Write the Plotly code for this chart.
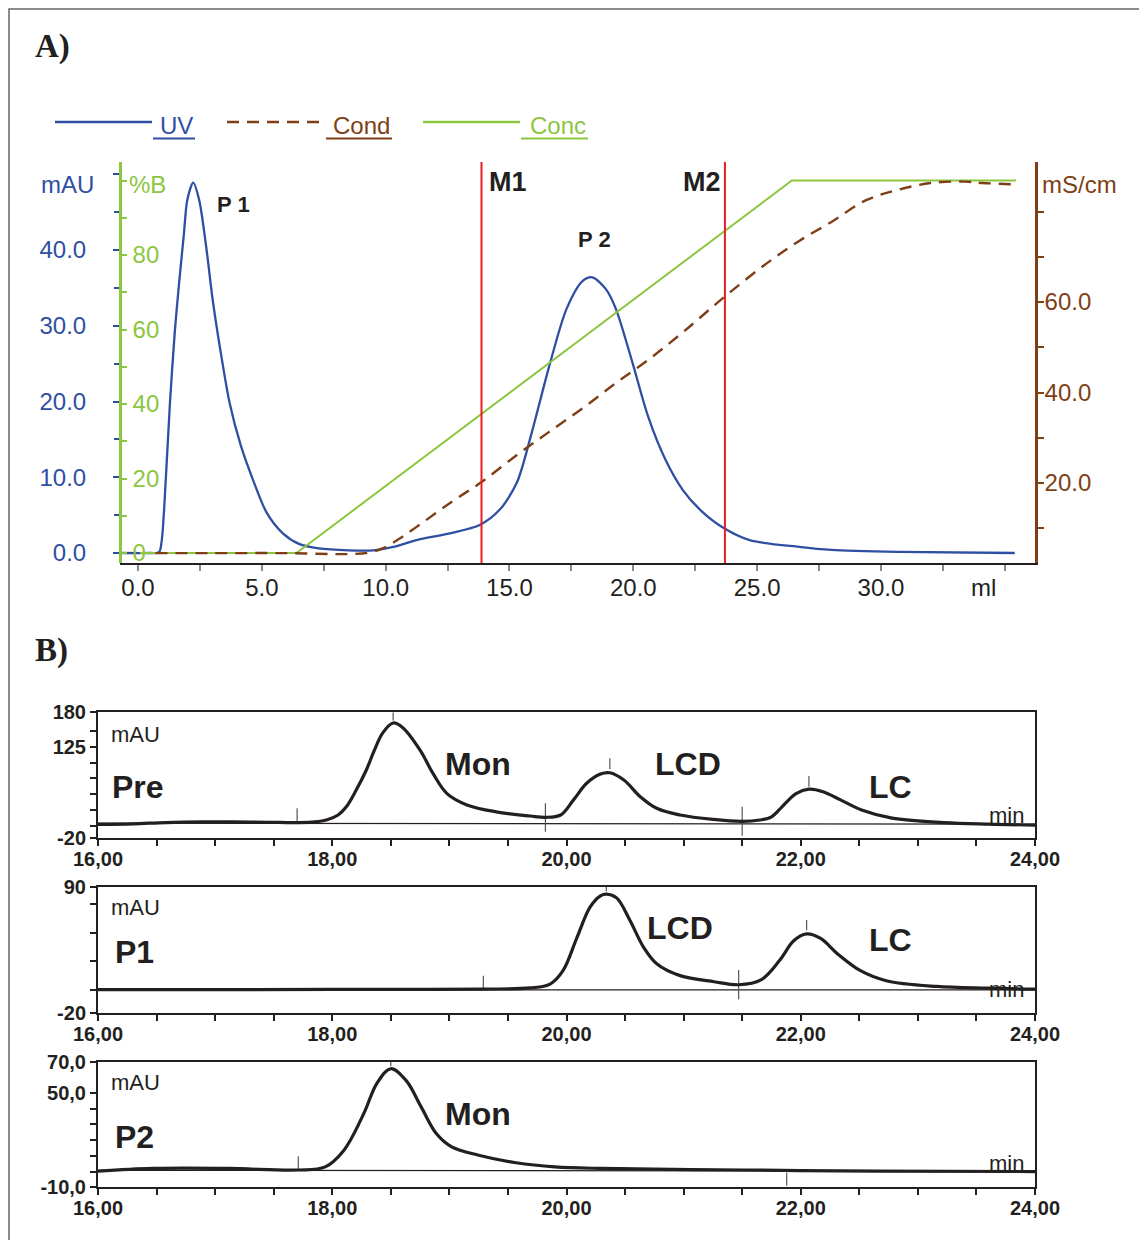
import plotly.graph_objects as go

W, H = 1139, 1240
def px(x): return x / W
def py(y): return 1 - y / H

# ---------------- DATA: panel A (column run) ----------------
uv_ml = [-0.7, 0.5, 0.85, 0.96, 1.12, 1.29, 1.49, 1.67, 1.85, 1.99, 2.23, 2.47, 2.77, 3.0, 3.3,
         3.7, 4.15, 4.65, 5.2, 5.85, 6.5, 7.3, 8.5, 9.5, 10.3, 11.25, 12.6, 13.8, 14.6, 15.3, 15.9, 16.6,
         17.3, 17.95, 18.35, 18.9, 19.3, 19.96, 20.6, 21.3, 22.0, 22.7, 23.6, 24.7, 26.7, 28.0, 30.7, 35.4]
uv_mau = [0, 0, 0.1, 1.7, 9.6, 19.8, 29.4, 36, 42, 46.6, 48.9, 46.6, 40, 33.8, 27.3,
          19.8, 14.2, 9.6, 5.3, 2.6, 1.2, 0.6, 0.35, 0.35, 0.8, 1.7, 2.6, 3.7, 5.7, 9.3, 15.9, 24.6,
          32.2, 35.9, 36.4, 34.8, 32.2, 25.2, 18, 12.3, 8.3, 5.7, 3.4, 1.7, 0.8, 0.4, 0.15, 0.0]

cond_ml = [0.7, 3, 6, 8.55, 9.3, 9.9, 10.5, 11.25, 12.6, 13.87, 15.3, 16.6, 17.95, 19.3, 20.6, 22.0,
           23.67, 25.4, 26.7, 28.0, 29.4, 30.7, 32.0, 33.4, 34.1, 35.4]
cond_ms = [4.5, 4.5, 4.5, 4.3, 4.6, 5.6, 7.5, 10.3, 15.6, 20.2, 26.2, 31.3, 36.5, 42.1, 47.2, 53.3,
           61.1, 68.6, 73.5, 77.7, 82.5, 84.8, 86.3, 86.6, 86.3, 86.0]

conc_ml = [0.08, 6.4, 26.4, 35.45]
conc_pctB = [0, 0, 100, 100]

mark_names = ["M1", "M2"]
mark_ml = [13.87, 23.7]

xA_tickvals = [0, 5, 10, 15, 20, 25, 30]
xA_ticktext = ["0.0", "5.0", "10.0", "15.0", "20.0", "25.0", "30.0"]
xA_minor = [2.5, 7.5, 12.5, 17.5, 22.5, 27.5, 32.5, 35]
uv_tickvals = [0, 10, 20, 30, 40, 50]
uv_ticktext = ["0.0", "10.0", "20.0", "30.0", "40.0", ""]
uv_minor = [5, 15, 25, 35, 45]
b_tickvals = [0, 20, 40, 60, 80, 100]
b_ticktext = ["0", "20", "40", "60", "80", ""]
b_minor = [10, 30, 50, 70, 90]
c_tickvals = [20, 40, 60]
c_ticktext = ["20.0", "40.0", "60.0"]
c_minor = [10, 30, 50, 70, 80]

# ---------------- DATA: panel B (SEC analyses) ----------------
pre_t = [16.0, 16.3, 16.58, 16.9, 17.15, 17.45, 17.7, 17.85, 17.95, 18.05, 18.12, 18.2, 18.29, 18.36,
         18.43, 18.52, 18.6, 18.75, 18.86, 18.98, 19.15, 19.4, 19.69, 19.82, 19.95, 20.06, 20.17,
         20.29, 20.37, 20.49, 20.63, 20.77, 20.97, 21.25, 21.5, 21.65, 21.75, 21.84, 21.96, 22.07,
         22.19, 22.34, 22.52, 22.78, 23.22, 23.6, 24.0]
pre_mau = [2, 3, 5, 6, 6, 5.5, 5, 6, 9, 17, 30, 55, 88, 120,
           147, 163, 156, 120, 83, 51, 33, 22, 15.4, 13.3, 17, 41, 67,
           82, 84, 72.5, 46, 27.6, 17, 10, 7, 9, 14, 30, 51, 58,
           54, 41, 25, 12, 5, 2.5, 1]
pre_base = [4, 2.5]

p1_t = [16.0, 17.0, 18.0, 18.41, 19.29, 19.69, 19.86, 19.97, 20.09, 20.2, 20.29, 20.34, 20.43, 20.54,
        20.66, 20.77, 20.97, 21.26, 21.47, 21.66, 21.82, 21.94, 22.05, 22.17, 22.31, 22.51, 22.73,
        23.16, 23.6, 24.0]
p1_mau = [0.5, 0.5, 0.8, 0.8, 1, 2, 5.4, 17, 46, 72, 82, 83.5, 80, 61,
          37, 23, 12.7, 7.4, 4.8, 9, 26, 43, 49, 45, 32, 17, 8.3,
          3.3, 1.8, 1]
p1_base = [0.3, 0.3]

p2_t = [16.0, 16.47, 17.12, 17.71, 17.94, 18.1, 18.27, 18.38, 18.5, 18.63, 18.76, 18.89, 19.02,
        19.25, 19.57, 19.9, 20.29, 21.51, 22.65, 24.0]
p2_mau = [0.3, 2, 2, 1, 3, 13.6, 37, 56, 65.4, 58, 41, 24, 15.7,
          10.4, 5.6, 3, 2, 1, 0.3, 0]
p2_base = [0.8, 0.3]

base_t = [16.0, 24.0]

# integration marks: time, low, high
pre_marks = [(17.7, 4.8, 27.6), (18.52, 167, 180), (19.82, -9.5, 35.5), (20.37, 89.5, 107),
             (21.5, -16, 30), (22.07, 62, 79)]
p1_marks = [(19.29, 1, 12.7), (20.34, 85.7, 90), (21.47, -7.7, 17.6), (22.05, 52, 61)]
p2_marks = [(17.71, 1, 9.8), (18.5, 67, 70), (21.88, -9, -0.7)]

xB_tickvals = [16 + 0.5 * i for i in range(17)]
xB_ticktext = [("%d,00" % int(v)) if (v % 2 == 0) else "" for v in xB_tickvals]

pre_tickvals = [-20, 0, 25, 50, 75, 100, 125, 150, 180]
pre_ticktext = ["-20", "", "", "", "", "", "125", "", "180"]
p1_tickvals = [-20, 0, 25, 50, 75, 90]
p1_ticktext = ["-20", "", "", "", "", "90"]
p2_tickvals = [-10, 0, 10, 20, 30, 40, 50, 70]
p2_ticktext = ["-10,0", "", "", "", "", "", "50,0", "70,0"]

# ---------------- STYLE ----------------
BLUE = "#2f4fa3"
GREEN = "#8cc63f"
BROWN = "#7e3f16"
RED = "#ec1c24"
INK = "#231f20"
FONT = "Liberation Sans"
DASH = "12px,8px"

fig = go.Figure()

fig.add_trace(go.Scatter(x=conc_ml, y=conc_pctB, mode="lines", yaxis="y2", xaxis="x",
                         line=dict(color=GREEN, width=2), showlegend=False, hoverinfo="skip"))
fig.add_trace(go.Scatter(x=cond_ml, y=cond_ms, mode="lines", yaxis="y3", xaxis="x",
                         line=dict(color=BROWN, width=2.4, dash=DASH), line_shape="spline",
                         showlegend=False, hoverinfo="skip"))
fig.add_trace(go.Scatter(x=uv_ml, y=uv_mau, mode="lines", yaxis="y", xaxis="x",
                         line=dict(color=BLUE, width=2.3, smoothing=0.8), line_shape="spline",
                         showlegend=False, hoverinfo="skip"))

# fraction markers M1/M2
for name, xm in zip(mark_names, mark_ml):
    fig.add_shape(type="line", xref="x", yref="y domain", x0=xm, x1=xm, y0=0, y1=1,
                  line=dict(color=RED, width=2))

# panel B traces
panels = [
    ("x2", "y4", pre_t, pre_mau, pre_base, pre_marks),
    ("x3", "y5", p1_t, p1_mau, p1_base, p1_marks),
    ("x4", "y6", p2_t, p2_mau, p2_base, p2_marks),
]
for xa, ya, t, v, b, marks in panels:
    fig.add_trace(go.Scatter(x=base_t, y=b, mode="lines", xaxis=xa, yaxis=ya,
                             line=dict(color=INK, width=1.2), showlegend=False, hoverinfo="skip"))
    mx, my = [], []
    for tm, lo, hi in marks:
        mx += [tm, tm, None]
        my += [lo, hi, None]
    fig.add_trace(go.Scatter(x=mx, y=my, mode="lines", xaxis=xa, yaxis=ya,
                             line=dict(color="#555555", width=1.2), showlegend=False, hoverinfo="skip"))
    fig.add_trace(go.Scatter(x=t, y=v, mode="lines", xaxis=xa, yaxis=ya, line_shape="spline",
                             line=dict(color=INK, width=3.2), showlegend=False, hoverinfo="skip"))

tick_font = dict(family=FONT, size=24, color=INK)

layout = dict(
    width=W, height=H, margin=dict(l=0, r=0, t=0, b=0),
    paper_bgcolor="white", plot_bgcolor="rgba(0,0,0,0)", template="none",
    showlegend=False,
    xaxis=dict(domain=[px(120), px(1035)], range=[-0.727, 36.22], anchor="y",
               showline=True, linecolor=INK, linewidth=2, showgrid=False, zeroline=False,
               ticks="outside", ticklen=6, tickwidth=2, tickcolor="#8a8a8a",
               tickvals=xA_tickvals, ticktext=xA_ticktext, tickfont=tick_font,
               minor=dict(tickvals=xA_minor, ticks="outside", ticklen=6, tickwidth=2, tickcolor="#8a8a8a"),
               ticklabelstandoff=-4, automargin=False),
    yaxis=dict(domain=[py(563), py(162)], range=[-1.32, 51.62], anchor="x",
               showline=False, showgrid=False, zeroline=False,
               ticks="outside", ticklen=6, tickwidth=2, tickcolor=BLUE,
               tickvals=uv_tickvals, ticktext=uv_ticktext,
               tickfont=dict(family=FONT, size=24, color=BLUE),
               minor=dict(tickvals=uv_minor, ticks="outside", ticklen=5, tickwidth=2, tickcolor=BLUE),
               ticklabelstandoff=22, automargin=False),
    yaxis2=dict(overlaying="y", anchor="free", position=px(120), side="right", range=[-2.68, 104.97],
                showline=True, linecolor=GREEN, linewidth=2.5, showgrid=False, zeroline=False,
                ticks="outside", ticklen=5, tickwidth=2, tickcolor=GREEN,
                tickvals=b_tickvals, ticktext=b_ticktext,
                tickfont=dict(family=FONT, size=24, color=GREEN),
                minor=dict(tickvals=b_minor, ticks="outside", ticklen=5, tickwidth=2, tickcolor=GREEN),
                ticklabelstandoff=1, automargin=False),
    yaxis3=dict(overlaying="y", anchor="x", side="right", range=[2.32, 90.94],
                showline=True, linecolor=BROWN, linewidth=2.5, showgrid=False, zeroline=False,
                ticks="outside", ticklen=6, tickwidth=2, tickcolor=BROWN,
                tickvals=c_tickvals, ticktext=c_ticktext,
                tickfont=dict(family=FONT, size=24, color=BROWN),
                minor=dict(tickvals=c_minor, ticks="outside", ticklen=6, tickwidth=2, tickcolor=BROWN),
                ticklabelstandoff=-4, automargin=False),
)

b_doms = [(712.3, 838.3), (886.6, 1013.3), (1061.5, 1187.3)]
b_ranges = [[-20, 180], [-20, 90], [-10, 70]]
b_ticks = [(pre_tickvals, pre_ticktext), (p1_tickvals, p1_ticktext), (p2_tickvals, p2_ticktext)]
bold_tick = dict(family=FONT, size=20, color=INK, weight="bold")
for i in range(3):
    xname = "xaxis%d" % (i + 2)
    yname = "yaxis%d" % (i + 4)
    top, bot = b_doms[i]
    layout[xname] = dict(domain=[px(98), px(1035)], range=[16, 24], anchor="y%d" % (i + 4),
                         showline=True, mirror=True, linecolor=INK, linewidth=2,
                         showgrid=False, zeroline=False, ticks="outside", ticklen=6, tickwidth=1.5,
                         tickcolor=INK, tickvals=xB_tickvals, ticktext=xB_ticktext,
                         tickfont=bold_tick, ticklabelstandoff=-4, automargin=False)
    layout[yname] = dict(domain=[py(bot), py(top)], range=b_ranges[i], anchor="x%d" % (i + 2),
                         showline=True, mirror=True, linecolor=INK, linewidth=2,
                         showgrid=False, zeroline=False, ticks="outside", ticklen=6, tickwidth=1.5,
                         tickcolor=INK, tickvals=b_ticks[i][0], ticktext=b_ticks[i][1],
                         tickfont=bold_tick, automargin=False)

fig.update_layout(**layout)

def ann(text, x, y, size, color=INK, bold=False, family=FONT, xanchor="left"):
    f = dict(family=family, size=size, color=color)
    if bold:
        f["weight"] = "bold"
    fig.add_annotation(text=text, x=px(x), y=py(y), xref="paper", yref="paper",
                       xanchor=xanchor, yanchor="middle", showarrow=False, font=f)

# frame
fig.add_shape(type="rect", xref="paper", yref="paper", x0=px(9), x1=1.02, y0=-0.02, y1=py(9),
              line=dict(color="#666666", width=1.5))

# panel titles
ann("A)", 33, 47, 33, bold=True, family="Liberation Serif")
ann("B)", 33, 650, 33, bold=True, family="Liberation Serif")

# legend of panel A
leg = [("UV", BLUE, "solid", 55, 152, 153, 195), ("Cond", BROWN, DASH, 227, 325, 326, 392),
       ("Conc", GREEN, "solid", 423, 520, 521, 588)]
for name, col, dash, l0, l1, u0, u1 in leg:
    fig.add_shape(type="line", xref="paper", yref="paper", x0=px(l0), x1=px(l1), y0=py(122), y1=py(122),
                  line=dict(color=col, width=2.5, dash=dash))
    fig.add_shape(type="line", xref="paper", yref="paper", x0=px(u0), x1=px(u1), y0=py(138.5), y1=py(138.5),
                  line=dict(color=col, width=1.8))
    ann(name, u1, 126, 24, color=col, xanchor="right")

# axis unit labels panel A
ann("mAU", 39, 184, 24, color=BLUE)
ann("%B", 127, 184, 24, color=GREEN)
ann("mS/cm", 1040, 184, 24, color=BROWN)
ann("ml", 983, 587, 24, xanchor="center")

# peak / marker labels panel A
ann("M1", 487, 182, 27, bold=True)
ann("M2", 681, 182, 27, bold=True)
ann("P 1", 215, 205, 22, bold=True)
ann("P 2", 576, 239, 22, bold=True)

# panel B labels
ann("mAU", 109, 734, 22)
ann("Pre", 110, 787, 32, bold=True)
ann("Mon", 443, 764, 32, bold=True)
ann("LCD", 653, 764, 32, bold=True)
ann("LC", 867, 787, 32, bold=True)
ann("min", 987, 815, 22)

ann("mAU", 109, 907, 22)
ann("P1", 113, 952, 32, bold=True)
ann("LCD", 645, 928, 32, bold=True)
ann("LC", 867, 940, 32, bold=True)
ann("min", 987, 989, 22)

ann("mAU", 109, 1082, 22)
ann("P2", 113, 1137, 32, bold=True)
ann("Mon", 443, 1114, 32, bold=True)
ann("min", 987, 1163, 22)

fig.write_html("out.html")
